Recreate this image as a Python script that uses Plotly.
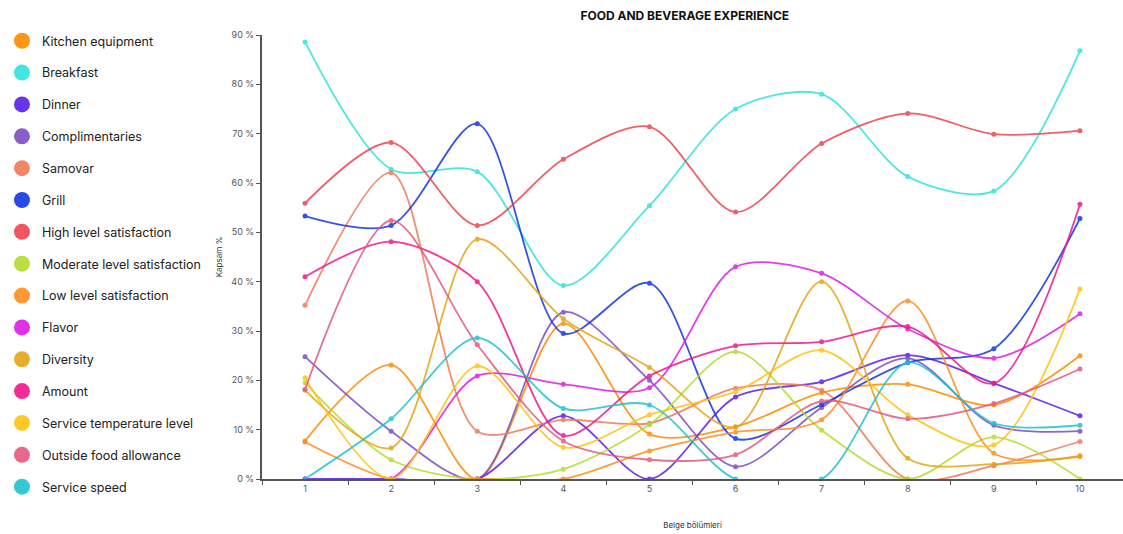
import plotly.graph_objects as go

# Report sections (x categories)
sections = ["1", "2", "3", "4", "5", "6", "7", "8", "9", "10"]

# Y axis ticks
y_ticks = [0, 10, 20, 30, 40, 50, 60, 70, 80, 90]
y_tick_labels = ["0 %", "10 %", "20 %", "30 %", "40 %", "50 %", "60 %", "70 %", "80 %", "90 %"]

# Coverage percentages per section for each topic
kitchen_equipment = [7.7, 23.1, 0, 31.5, 9.1, 10.6, 17.5, 19.2, 15.0, 25.0]
breakfast = [88.6, 62.8, 62.3, 39.2, 55.4, 75.0, 78.0, 61.3, 58.4, 86.8]
dinner = [0, 0, 0, 12.8, 0, 16.6, 19.7, 25.1, 19.4, 12.8]
complimentaries = [24.8, 9.7, 0, 33.8, 20.0, 2.5, 14.5, 24.5, 10.9, 9.7]
samovar = [35.2, 62.1, 9.7, 12.0, 11.3, 18.4, 18.0, 0, 2.7, 7.6]
grill = [53.3, 51.4, 72.0, 29.5, 39.7, 8.2, 15.1, 23.6, 26.4, 52.8]
high_level = [55.9, 68.2, 51.4, 64.8, 71.4, 54.1, 68.0, 74.1, 69.9, 70.6]
moderate_level = [19.5, 3.9, 0, 2.0, 11.0, 25.8, 9.9, 0, 8.5, 0]
low_level = [7.5, 0, 0, 0, 5.7, 9.5, 12.0, 36.1, 5.2, 4.7]
flavor = [0, 0, 20.9, 19.2, 18.5, 43.0, 41.7, 30.4, 24.5, 33.5]
diversity = [18.0, 6.3, 48.6, 32.5, 22.6, 10.5, 40.0, 4.2, 3.0, 4.5]
amount = [41.0, 48.1, 40.0, 8.8, 20.9, 27.0, 27.8, 30.9, 19.4, 55.7]
service_temperature = [20.5, 0, 22.9, 6.4, 13.0, 17.7, 26.1, 13.0, 6.9, 38.5]
outside_food = [18.2, 52.4, 27.2, 7.7, 3.9, 4.9, 15.8, 12.2, 15.3, 22.3]
service_speed = [0, 12.2, 28.6, 14.3, 15.0, 0, 0, 23.6, 11.3, 10.9]

series = [
    ("Kitchen equipment", kitchen_equipment, "#FF8A00"),
    ("Breakfast", breakfast, "#2EE3DA"),
    ("Dinner", dinner, "#5A1EE6"),
    ("Complimentaries", complimentaries, "#7C4CC4"),
    ("Samovar", samovar, "#F07A58"),
    ("Grill", grill, "#1236E0"),
    ("High level satisfaction", high_level, "#F0424E"),
    ("Moderate level satisfaction", moderate_level, "#B4DC2C"),
    ("Low level satisfaction", low_level, "#FF8C1C"),
    ("Flavor", flavor, "#DC1CE6"),
    ("Diversity", diversity, "#E5A514"),
    ("Amount", amount, "#F0168A"),
    ("Service temperature level", service_temperature, "#FFC210"),
    ("Outside food allowance", outside_food, "#E4587E"),
    ("Service speed", service_speed, "#1DC2CE"),
]

fig = go.Figure()

# Curves
for name, values, color in series:
    fig.add_trace(go.Scatter(
        x=sections, y=values, name=name, mode="lines+markers",
        line=dict(color=color, width=1.8, shape="spline", smoothing=0.85),
        marker=dict(color=color, size=5),
        opacity=0.85, showlegend=False, hoverinfo="x+y+name",
    ))

# Legend entries drawn as plain circles
for i, (name, values, color) in enumerate(series):
    fig.add_trace(go.Scatter(
        x=[None], y=[None], name=name, mode="markers",
        marker=dict(color=color, size=16, opacity=0.9),
        legendgroup=f"g{i}", showlegend=True,
    ))

axis_color = "#555555"
fig.update_layout(
    width=1123, height=534,
    margin=dict(l=262, r=0, t=35, b=55),
    paper_bgcolor="white", plot_bgcolor="white",
    font=dict(family="Inter, Roboto, sans-serif", color="#333333"),
    title=dict(
        text="<b>FOOD AND BEVERAGE EXPERIENCE</b>",
        font=dict(size=12, color="#111111"),
        x=0.491, xref="paper", xanchor="center",
        y=1 - 16 / 534, yref="container", yanchor="middle",
    ),
    legend=dict(
        x=-0.302, xanchor="left", y=1.02, yanchor="top",
        font=dict(size=12.5, color="#222222"),
        tracegroupgap=12.6, bgcolor="rgba(0,0,0,0)",
        itemsizing="trace", maxheight=534,
    ),
    xaxis=dict(
        type="category", categoryorder="array", categoryarray=sections,
        range=[-0.5, 9.5], showgrid=False, zeroline=False,
        showline=True, linecolor=axis_color, linewidth=2,
        ticks="outside", tickson="boundaries", ticklen=4, tickcolor=axis_color,
        tickfont=dict(size=9, color="#555555"),
        title=dict(text="Belge bölümleri", font=dict(size=8, color="#333333"), standoff=30),
        automargin=False,
    ),
    yaxis=dict(
        range=[0, 90], tickvals=y_ticks, ticktext=y_tick_labels,
        showgrid=False, zeroline=False,
        showline=True, linecolor=axis_color, linewidth=2,
        ticks="outside", ticklen=4, tickcolor=axis_color,
        tickfont=dict(size=9, color="#555555"),
        title=dict(text="Kapsam %", font=dict(size=8, color="#333333"), standoff=8),
        automargin=False,
    ),
)

fig.write_html("out.html")
